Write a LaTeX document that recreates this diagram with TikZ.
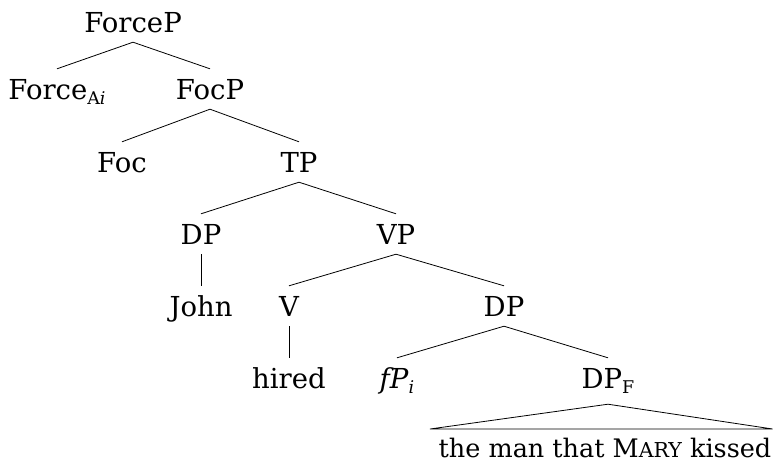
\documentclass[tikz,border=0pt]{standalone}
\usepackage{fontspec}
\setmainfont{DejaVu Serif}
\newcommand{\lsub}[1]{\raisebox{-5pt}{\fontsize{17.5}{18}\selectfont #1}}
\newcommand{\fakesc}[1]{{\fontsize{20.5}{22}\selectfont #1}}
\begin{document}
\begin{tikzpicture}[x=1pt,y=-1pt,
  lab/.style={font=\fontsize{27.5}{30}\selectfont, text height=20pt, text depth=0pt,
    inner xsep=0pt, inner ysep=10pt, anchor=base},
  edge/.style={draw, line width=0.8pt}]
\useasboundingbox (0,0) rectangle (773,466);
\node[lab] (forcep) at (133,32) {ForceP};
\node[lab] (force) at (57,99) {Force\lsub{A\textit{i}}};
\node[lab] (focp) at (210,99) {FocP};
\node[lab] (foc) at (122,172) {Foc};
\node[lab] (tp) at (299,172) {TP};
\node[lab] (dpa) at (201,244) {DP};
\node[lab] (vp) at (396,244) {VP};
\node[lab] (john) at (201,316) {John};
\node[lab] (v) at (289,316) {V};
\node[lab] (dpb) at (504,316) {DP};
\node[lab] (hired) at (289,388) {hired};
\node[lab] (fp) at (397,388) {\textit{fP}\lsub{\textit{i}}};
\node[lab] (dpf) at (608,388) {DP\lsub{F}};
\node[lab, font=\fontsize{25.5}{30}\selectfont] (txt) at (605,457) {the man that M\fakesc{ARY} kissed};
\coordinate (apex) at ([yshift=-6pt]dpf.south);
\coordinate (bl) at (430,429);
\coordinate (br) at (772.6,429);
\draw[edge] (forcep.south) -- (force.north);
\draw[edge] (forcep.south) -- (focp.north);
\draw[edge] (focp.south) -- (foc.north);
\draw[edge] (focp.south) -- (tp.north);
\draw[edge] (tp.south) -- (dpa.north);
\draw[edge] (tp.south) -- (vp.north);
\draw[edge] (dpa.south) -- (john.north);
\draw[edge] (vp.south) -- (v.north);
\draw[edge] (vp.south) -- (dpb.north);
\draw[edge] (v.south) -- (hired.north);
\draw[edge] (dpb.south) -- (fp.north);
\draw[edge] (dpb.south) -- (dpf.north);
\draw[edge, line join=miter] (apex) -- (bl) -- (br) -- cycle;
\end{tikzpicture}
\end{document}
